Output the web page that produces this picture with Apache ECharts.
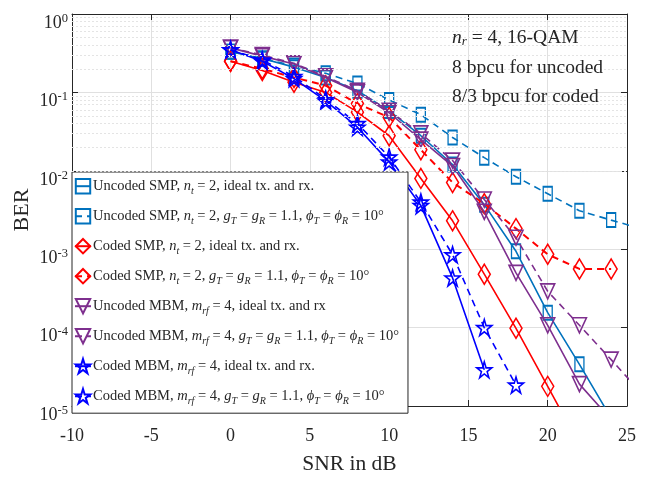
<!DOCTYPE html>
<html>
<head>
<meta charset="utf-8">
<script src="https://cdn.jsdelivr.net/npm/echarts@6/dist/echarts.min.js"></script>
<style>html,body{margin:0;padding:0;background:#fff}#c{width:651px;height:480px}</style>
</head>
<body>
<div id="c"></div>
<script>
// ---- data ----
var snr = [0, 2, 4, 6, 8, 10, 12, 14, 16, 18, 20, 22, 24, 26];
var uncSmpIdeal = [0.33, 0.27, 0.21, 0.155, 0.105, 0.058, 0.028, 0.012, 0.0037, 0.00094, 0.000155, 0.000034, 0.000007, null];
var uncSmpImp   = [0.33, 0.27, 0.22, 0.175, 0.13, 0.08, 0.052, 0.0266, 0.0147, 0.0084, 0.0051, 0.0031, 0.00235, 0.0018];
var codSmpIdeal = [0.25, 0.19, 0.135, 0.10, 0.056, 0.028, 0.0080, 0.0023, 0.00048, 0.000098, 0.0000178, 0.0000032, null, null];
var codSmpImp   = [0.25, 0.20, 0.155, 0.122, 0.072, 0.048, 0.0185, 0.0071, 0.0038, 0.00183, 0.00086, 0.00056, 0.00056, null];
var uncMbmIdeal = [0.37, 0.29, 0.23, 0.155, 0.10, 0.055, 0.025, 0.0115, 0.003, 0.0005, 0.000107, 0.000019, 0.0000067, null];
var uncMbmImp   = [0.37, 0.30, 0.235, 0.16, 0.105, 0.058, 0.030, 0.0135, 0.0043, 0.0014, 0.00029, 0.000107, 0.000039, 0.000014];
var codMbmIdeal = [0.35, 0.25, 0.15, 0.078, 0.036, 0.013, 0.0036, 0.00043, 0.000029, null, null, null, null, null];
var codMbmImp   = [0.35, 0.26, 0.16, 0.082, 0.040, 0.015, 0.004, 0.00085, 0.0001, 0.0000185, null, null, null, null];
var minorGrid = [];
[1e-5, 1e-4, 1e-3, 1e-2, 1e-1].forEach(function (d) { for (var k = 2; k <= 9; k++) minorGrid.push(+(k * d).toPrecision(3)); });

var seriesNames = [
  'Uncoded SMP, nt = 2, ideal tx. and rx.',
  'Uncoded SMP, nt = 2, gT = gR = 1.1, phiT = phiR = 10',
  'Coded SMP, nt = 2, ideal tx. and rx.',
  'Coded SMP, nt = 2, gT = gR = 1.1, phiT = phiR = 10',
  'Uncoded MBM, mrf = 4, ideal tx. and rx',
  'Uncoded MBM, mrf = 4, gT = gR = 1.1, phiT = phiR = 10',
  'Coded MBM, mrf = 4, ideal tx. and rx.',
  'Coded MBM, mrf = 4, gT = gR = 1.1, phiT = phiR = 10'
];
var EQ = ' = ';
var imp = ', {i|g}{s|T}' + EQ + '{i|g}{s|R}' + EQ + '1.1, {i|ϕ}{s|T}' + EQ + '{i|ϕ}{s|R}' + EQ + '10°';
var legendLabels = [
  'Uncoded SMP, {i|n}{s|t}' + EQ + '2, ideal tx. and rx.',
  'Uncoded SMP, {i|n}{s|t}' + EQ + '2' + imp,
  'Coded SMP, {i|n}{s|t}' + EQ + '2, ideal tx. and rx.',
  'Coded SMP, {i|n}{s|t}' + EQ + '2' + imp,
  'Uncoded MBM, {i|m}{s|rf}' + EQ + '4, ideal tx. and rx',
  'Uncoded MBM, {i|m}{s|rf}' + EQ + '4' + imp,
  'Coded MBM, {i|m}{s|rf}' + EQ + '4, ideal tx. and rx.',
  'Coded MBM, {i|m}{s|rf}' + EQ + '4' + imp
];

var FONT = 'Liberation Serif';
var STAR = 'path://M50,0 L61.2,34.5 L97.6,34.5 L68.2,55.9 L79.4,90.5 L50,69.1 L20.6,90.5 L31.8,55.9 L2.4,34.5 L38.8,34.5 Z';
var C_SQ = '#0072BD', C_RD = '#FF0000', C_PU = '#7E2F8E', C_BL = '#0000FF';
var TXT = '#262626';

function pairs(vals) { return snr.map(function (x, i) { return [x, vals[i]]; }); }
function mk(idx, vals, color, dashed, symbol, size, rot, lw) {
  return {
    type: 'line', name: seriesNames[idx], data: pairs(vals),
    symbol: symbol, symbolSize: size, symbolRotate: rot || 0, showSymbol: true,
    connectNulls: false, clip: true, z: 3 + idx * 0.01,
    lineStyle: { color: color, width: lw || 1.6, type: dashed ? [7, 5] : 'solid' },
    itemStyle: { color: 'rgba(255,255,255,0)', borderColor: color, borderWidth: 1.6 },
    emphasis: { disabled: true }, animation: false
  };
}
var LFS = 14.5;
var rich = {
  i: { fontFamily: FONT, fontStyle: 'italic', fontSize: LFS, color: TXT, lineHeight: 16 },
  s: { fontFamily: FONT, fontStyle: 'italic', fontSize: 10, color: TXT, lineHeight: 10, verticalAlign: 'bottom', padding: [0, 0, -2, 0] }
};
var axisBase = {
  axisLine: { show: true, onZero: false, lineStyle: { color: TXT, width: 1 } },
  axisTick: { show: true, inside: true, length: 6, lineStyle: { color: TXT } }
};
function ax(extra) { return Object.assign({}, JSON.parse(JSON.stringify(axisBase)), extra); }

var option = {
  animation: false,
  backgroundColor: '#fff',
  grid: { left: 72, top: 14, width: 555, height: 398, show: false },
  xAxis: [ax({
    type: 'value', min: -10, max: 25, interval: 5,
    name: 'SNR in dB', nameLocation: 'middle', nameGap: 47,
    nameTextStyle: { fontFamily: FONT, fontSize: 21.5, color: TXT },
    axisLabel: { fontFamily: FONT, fontSize: 18, color: TXT, margin: 21 },
    splitLine: { show: true, lineStyle: { color: '#e0e0e0', width: 1 } }
  }), ax({
    type: 'value', min: -10, max: 25, interval: 5, position: 'top',
    axisLabel: { show: false }, splitLine: { show: false }
  })],
  yAxis: [ax({
    type: 'log', logBase: 10, min: 1e-5, max: 1,
    name: 'BER', nameLocation: 'middle', nameGap: 39, nameRotate: 90, nameMoveOverlap: false,
    nameTextStyle: { fontFamily: FONT, fontSize: 22, color: TXT },
    axisLabel: {
      margin: 4, fontFamily: FONT, fontSize: 18, color: TXT, padding: [18, 0, 0, 0],
      formatter: function (v) { return '10{sup|' + Math.round(Math.log10(v)) + '}'; },
      rich: {
        sup: { fontFamily: FONT, fontSize: 12.5, color: TXT, verticalAlign: 'top', padding: [0, 0, 9, 0] }
      }
    },
    splitLine: { show: true, lineStyle: { color: '#e0e0e0', width: 1 } }
  }), ax({
    type: 'log', logBase: 10, min: 1e-5, max: 1, position: 'right',
    axisLabel: { show: false }, splitLine: { show: false }
  })],
  legend: {
    orient: 'vertical', left: 72, top: 172,
    padding: [6, 9, 7, 2],
    backgroundColor: '#fff', borderColor: TXT, borderWidth: 1,
    itemWidth: 16, itemHeight: 18, itemGap: 11.8,
    data: seriesNames,
    selectedMode: false,
    formatter: function (name) { return legendLabels[seriesNames.indexOf(name)]; },
    textStyle: { fontFamily: FONT, fontSize: LFS, color: TXT, padding: [0, 0, 0, -3], rich: rich }
  },
  graphic: [0, 1, 2].map(function (k) {
    var lines = ['{i|n}{s|r} = 4, 16-QAM', '8 bpcu for uncoded', '8/3 bpcu for coded'];
    return {
      type: 'text', left: 452, top: 28 + k * 29.5, z: 10,
      style: {
        text: lines[k], fontFamily: FONT, fontSize: 19.5, fill: TXT, lineHeight: 20,
        rich: {
          i: { fontFamily: FONT, fontStyle: 'italic', fontSize: 19.5, fill: TXT, lineHeight: 20 },
          s: { fontFamily: FONT, fontStyle: 'italic', fontSize: 13, fill: TXT, verticalAlign: 'bottom', lineHeight: 10 }
        }
      }
    };
  }),
  series: [
    {
      type: 'line', name: 'minor-grid', data: [], z: 1, silent: true,
      markLine: {
        silent: true, symbol: 'none', animation: false,
        label: { show: false },
        lineStyle: { color: '#e4e4e4', type: [2, 2], width: 1 },
        data: minorGrid.map(function (v) { return { yAxis: v }; })
      }
    },
    mk(0, uncSmpIdeal, C_SQ, false, 'rect', [9, 14]),
    mk(1, uncSmpImp, C_SQ, true, 'rect', [9, 14]),
    mk(2, codSmpIdeal, C_RD, false, 'diamond', [12, 20]),
    mk(3, codSmpImp, C_RD, true, 'diamond', [12, 20], 0, 2),
    mk(4, uncMbmIdeal, C_PU, false, 'triangle', [14, 15], 180),
    mk(5, uncMbmImp, C_PU, true, 'triangle', [14, 15], 180),
    mk(6, codMbmIdeal, C_BL, false, STAR, [15, 16]),
    mk(7, codMbmImp, C_BL, true, STAR, [15, 16])
  ]
};
var chart = echarts.init(document.getElementById('c'), null, { renderer: 'canvas' });
chart.setOption(option);
</script>
</body>
</html>
